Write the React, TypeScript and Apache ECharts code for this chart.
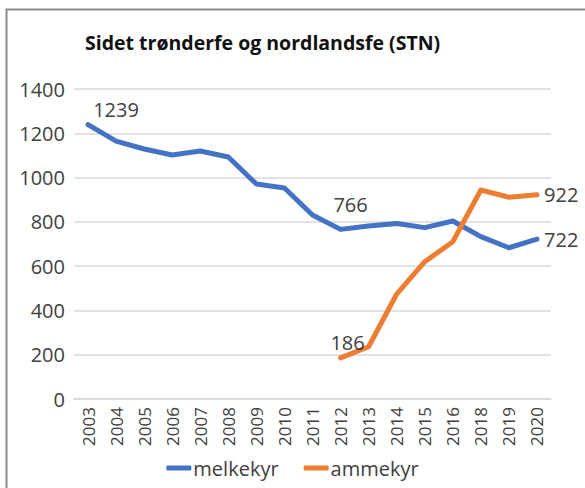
import React, { useEffect, useRef } from "react";
import * as echarts from "echarts";

const years = ["2003","2004","2005","2006","2007","2008","2009","2010","2011","2012","2013","2014","2015","2016","2018","2019","2020"];
const melkekyr = [1239,1165,1129,1102,1120,1093,971,953,831,766,781,793,774,804,733,683,722];
const ammekyr: (number | null)[] = [null,null,null,null,null,null,null,null,null,186,236,474,620,710,944,911,922];
const yTicks = { min: 0, max: 1400, interval: 200 };

const FONT = "'Open Sans', sans-serif";
const TXT = "#404040";

export default function App() {
  const ref = useRef<HTMLDivElement>(null);
  useEffect(() => {
    if (!ref.current) return;
    const chart = echarts.init(ref.current, null, { renderer: "svg" });
    const lab = (i: number, n: number) => {
      if (i === 0) return { show: true, position: "top", distance: 5, offset: [28, 0] };
      if (i === 9 && n === 0) return { show: true, position: "top", distance: 15, offset: [10, 0] };
      if (i === 9 && n === 1) return { show: true, position: "top", distance: 5, offset: [7, 0] };
      if (i === years.length - 1) return { show: true, position: "right", distance: 7 };
      return { show: false };
    };
    const mk = (arr: (number | null)[], n: number) =>
      arr.map((v, i) => ({ value: v, label: lab(i, n) }));
    chart.setOption({
      animation: false,
      textStyle: { fontFamily: FONT },
      title: {
        text: "Sidet trønderfe og nordlandsfe (STN)",
        left: 80,
        top: 27,
        textStyle: { fontFamily: FONT, fontWeight: "bold", fontSize: 19.5, color: "#111" },
      },
      graphic: [
        {
          type: "rect",
          shape: { x: 6.5, y: 9.5, width: 620, height: 520 },
          style: { fill: "none", stroke: "#8c8c8c", lineWidth: 2 },
          silent: true,
        },
      ],
      grid: { left: 74, right: 34, top: 89, bottom: 89 },
      legend: {
        bottom: 5,
        left: "center",
        itemWidth: 25,
        itemHeight: 5,
        itemGap: 25,
        icon: "roundRect",
        textStyle: { fontFamily: FONT, fontSize: 20, color: TXT, padding: [0, 0, 0, -3] },
        data: ["melkekyr", "ammekyr"],
      },
      xAxis: {
        type: "category",
        data: years,
        boundaryGap: true,
        axisLine: { lineStyle: { color: "#d9d9d9", width: 1.5 } },
        axisTick: { show: false },
        axisLabel: { rotate: 90, fontFamily: FONT, fontSize: 17, color: TXT, interval: 0, margin: 8 },
      },
      yAxis: {
        type: "value",
        min: yTicks.min,
        max: yTicks.max,
        interval: yTicks.interval,
        axisLine: { show: false },
        axisTick: { show: false },
        splitLine: { lineStyle: { color: "#d9d9d9", width: 1.5 } },
        axisLabel: { fontFamily: FONT, fontSize: 20, color: TXT, margin: 9, formatter: (v: number) => String(v) },
      },
      series: [
        {
          name: "melkekyr",
          type: "line",
          data: mk(melkekyr, 0),
          symbol: "circle",
          symbolSize: 0.1,
          showSymbol: true,
          lineStyle: { color: "#4472C4", width: 5, cap: "round", join: "round" },
          itemStyle: { color: "#4472C4" },
          label: { fontFamily: FONT, fontSize: 20, color: TXT },
        },
        {
          name: "ammekyr",
          type: "line",
          data: mk(ammekyr, 1),
          symbol: "circle",
          symbolSize: 0.1,
          showSymbol: true,
          lineStyle: { color: "#ED7D31", width: 5, cap: "round", join: "round" },
          itemStyle: { color: "#ED7D31" },
          label: { fontFamily: FONT, fontSize: 20, color: TXT },
        },
      ],
    });
    return () => chart.dispose();
  }, []);
  return (
    <div
      ref={ref}
      style={{ position: "absolute", left: 0, top: 0, width: 585, height: 488, background: "#fff" }}
    />
  );
}
